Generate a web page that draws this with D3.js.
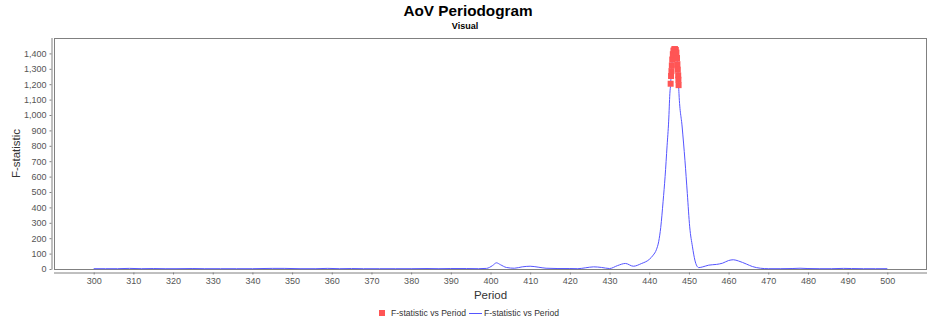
<!DOCTYPE html>
<html>
<head>
<meta charset="utf-8">
<script src="https://cdn.jsdelivr.net/npm/d3@7"></script>
<style>
  body { margin: 0; background: #fff; }
  svg { display: block; }
  text { font-family: "Liberation Sans", Arial, sans-serif; }
</style>
</head>
<body>
<svg id="chart" width="936" height="322"></svg>
<script>
// ---- data ----
const title = "AoV Periodogram";
const subtitle = "Visual";
const xLabel = "Period";
const yLabel = "F-statistic";
const seriesNames = ["F-statistic vs Period", "F-statistic vs Period"];

const xTicks = [300, 310, 320, 330, 340, 350, 360, 370, 380, 390, 400, 410, 420, 430, 440, 450, 460, 470, 480, 490, 500];
const yTicks = [0, 100, 200, 300, 400, 500, 600, 700, 800, 900, 1000, 1100, 1200, 1300, 1400];

// line series (blue)
const linePeriods = [300, 303, 306, 309, 312, 315, 318, 321, 325, 328, 332, 336, 340, 345, 348, 352, 356, 359, 362, 365, 368, 372, 376, 380, 384, 387, 390, 394, 397, 399,
  400.5, 401.5, 402.5, 404, 406, 408, 410, 412, 414, 417, 420, 422, 424, 426, 428, 430, 432, 434, 436, 438, 440, 441, 441.8, 442.4, 442.9, 443.5, 444, 444.5, 444.9, 445.2,
  445.4, 445.5, 445.6, 445.7, 445.8, 445.95, 446.1, 446.3, 446.5, 446.7, 446.85, 447.0, 447.1, 447.2, 447.3, 447.35, 447.4,
  447.5, 448.3, 449, 449.6, 450.2, 450.9, 451.5, 452, 452.5, 453.5, 455, 457, 458.5, 460, 461.2, 462.5, 464.5, 466, 468, 470, 473, 476, 478, 480, 483, 486, 489, 491, 494, 497, 500];
const lineValues = [2, 2, 2, 4, 2, 3, 2, 2, 3, 2, 2, 2, 2, 4, 4, 2, 2, 4, 2, 3, 2, 2, 2, 2, 3, 2, 3, 3, 2, 4,
  22, 40, 28, 10, 5, 14, 18, 12, 5, 3, 3, 2, 8, 14, 10, 3, 22, 36, 18, 35, 62, 90, 125, 180, 270, 440, 600, 800, 960, 1139,
  1203, 1253, 1285, 1322, 1360, 1395, 1418, 1427, 1428, 1422, 1405, 1370, 1330, 1294, 1257, 1229, 1194,
  1139, 922, 706, 490, 274, 144, 58, 20, 9, 14, 25, 30, 38, 55, 60, 52, 32, 16, 5, 2, 2, 3, 5, 3, 2, 2, 4, 3, 2, 2, 2];

// scatter series (red) - highest F-statistic points
const pointPeriods = [445.4, 445.5, 445.6, 445.7, 445.8, 445.95, 446.1, 446.3, 446.5, 446.7, 446.85, 447.0, 447.1, 447.2, 447.3, 447.35, 447.4];
const pointValues = [1203, 1253, 1285, 1322, 1360, 1395, 1418, 1427, 1428, 1422, 1405, 1370, 1330, 1294, 1257, 1229, 1194];

// ---- layout ----
const W = 936, H = 322;
const plot = { left: 54, right: 927, top: 38, bottom: 269 };
const colors = { points: "#ff5555", line: "#5555ff", frame: "#808080", tick: "#555555", label: "#333333" };

const svg = d3.select("#chart");

const x = d3.scaleLinear().domain([290, 510]).range([plot.left, plot.right]);
const y = d3.scaleLinear().domain([0, 1500]).range([plot.bottom, plot.top]);

// titles
svg.append("text").attr("x", W / 2).attr("y", 16).attr("text-anchor", "middle")
  .style("font-size", "15.3px").style("font-weight", "bold").attr("fill", "#000").text(title);
svg.append("text").attr("x", W / 2 - 3).attr("y", 29).attr("text-anchor", "middle")
  .style("font-size", "9px").style("font-weight", "bold").attr("fill", "#000").text(subtitle);

// plot frame
svg.append("rect").attr("x", plot.left + 0.5).attr("y", plot.top + 0.5)
  .attr("width", plot.right - plot.left - 1).attr("height", plot.bottom - plot.top)
  .attr("fill", "#fff").attr("stroke", colors.frame).attr("stroke-width", 1);

// axes
const fmt = d3.format(",");
const yAxis = d3.axisLeft(y).tickValues(yTicks).tickFormat(fmt).tickSizeOuter(0).tickSizeInner(2).tickPadding(3);
const xAxis = d3.axisBottom(x).tickValues(xTicks).tickFormat(d3.format("d")).tickSizeOuter(0).tickSizeInner(2).tickPadding(3);

const gy = svg.append("g").attr("transform", `translate(${plot.left - 2.5},0)`).call(yAxis);
const gx = svg.append("g").attr("transform", `translate(0,${plot.bottom + 3.5})`).call(xAxis);

[gx, gy].forEach(g => {
  g.select(".domain").attr("stroke", colors.frame);
  g.selectAll(".tick line").attr("stroke", colors.frame);
  g.selectAll(".tick text").attr("fill", colors.tick).style("font-size", "9px")
    .style("font-family", '"Liberation Sans", Arial, sans-serif');
});
gy.select(".domain").attr("d", `M0.5,${plot.top}V${plot.bottom + 0.5}`);
gx.select(".domain").attr("d", `M${plot.left},0.5H${plot.right}`);

// axis labels
svg.append("text").attr("x", (plot.left + plot.right) / 2).attr("y", 299).attr("text-anchor", "middle")
  .style("font-size", "11.5px").attr("fill", colors.label).text(xLabel);
svg.append("text").attr("transform", `translate(20,${(plot.top + plot.bottom) / 2}) rotate(-90)`)
  .attr("text-anchor", "middle").style("font-size", "11.5px").attr("fill", colors.label).text(yLabel);

// line
const lineData = linePeriods.map((p, i) => ({ p, v: lineValues[i] }));
const line = d3.line().x(d => x(d.p)).y(d => y(d.v)).curve(d3.curveMonotoneX);
svg.append("path").datum(lineData).attr("d", line)
  .attr("fill", "none").attr("stroke", colors.line).attr("stroke-width", 1);

// points
const pointData = pointPeriods.map((p, i) => ({ p, v: pointValues[i] }));
svg.append("g").selectAll("rect").data(pointData).join("rect")
  .attr("x", d => x(d.p) - 3).attr("y", d => y(d.v) - 3)
  .attr("width", 6).attr("height", 6).attr("fill", colors.points);

// legend
const lg = svg.append("g");
lg.append("rect").attr("x", 379).attr("y", 310).attr("width", 6).attr("height", 6).attr("fill", colors.points);
lg.append("text").attr("x", 391).attr("y", 316).style("font-size", "8.6px").attr("fill", colors.label).text(seriesNames[0]);
lg.append("line").attr("x1", 469).attr("x2", 482).attr("y1", 313.5).attr("y2", 313.5)
  .attr("stroke", colors.line).attr("stroke-width", 1);
lg.append("text").attr("x", 484).attr("y", 316).style("font-size", "8.6px").attr("fill", colors.label).text(seriesNames[1]);
</script>
</body>
</html>
